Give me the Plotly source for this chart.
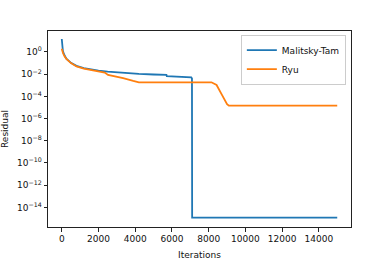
import plotly.graph_objects as go

# Malitsky-Tam residual history
mt_iter = [0, 10, 30, 60, 120, 250, 500, 800, 1200, 1600, 2000, 2500, 2900, 3500,
           4200, 5000, 5700, 5720, 6500, 6950, 7050, 7090, 7100, 15000]
mt_res = [14.8, 4.0, 2.2, 1.26, 0.63, 0.25, 0.105, 0.056, 0.035, 0.026, 0.021, 0.017,
          0.0148, 0.0126, 0.0107, 0.0093, 0.0085, 0.0065, 0.0062, 0.0059, 0.0052, 0.004,
          1.2e-15, 1.2e-15]

# Ryu residual history
ryu_iter = [0, 20, 70, 150, 250, 500, 800, 1200, 1600, 2000, 2340, 2520, 2970, 3340,
            3890, 4070, 4200, 8150, 8250, 8430, 8700, 9000, 9100, 15000]
ryu_res = [2.0, 1.26, 0.76, 0.4, 0.234, 0.1, 0.05, 0.0316, 0.024, 0.019, 0.0138, 0.0085,
           0.006, 0.0043, 0.00245, 0.002, 0.00186, 0.00186, 0.00158, 0.00107, 0.000158,
           2.0e-5, 1.45e-5, 1.45e-5]

x_ticks = [0, 2000, 4000, 6000, 8000, 10000, 12000, 14000]
x_ticktext = [str(v) for v in x_ticks]
y_exps = [0, -2, -4, -6, -8, -10, -12, -14]
y_tickvals = [10.0 ** e for e in y_exps]
y_ticktext = ["10<sup>%s</sup>" % (str(e).replace("-", "\u2212")) for e in y_exps]

font = "DejaVu Sans"

fig = go.Figure()
fig.add_trace(go.Scatter(x=mt_iter, y=mt_res, mode="lines", name="Malitsky-Tam",
                         line=dict(color="#1f77b4", width=1.8)))
fig.add_trace(go.Scatter(x=ryu_iter, y=ryu_res, mode="lines", name="Ryu",
                         line=dict(color="#ff7f0e", width=1.8)))

axis_common = dict(showline=True, mirror=True, linecolor="#222222", linewidth=1,
                   ticks="outside", ticklen=3.5, tickwidth=1, tickcolor="#222222",
                   showgrid=False, zeroline=False, automargin=False,
                   tickfont=dict(family=font, size=9, color="#111111"))

fig.update_layout(
    width=390, height=260,
    margin=dict(l=48, r=39, t=31, b=33),
    paper_bgcolor="white", plot_bgcolor="white",
    font=dict(family=font, size=9, color="#111111"),
    xaxis=dict(range=[-750, 15750], tickvals=x_ticks, ticktext=x_ticktext,
               title=dict(text="Iterations", font=dict(family=font, size=9)),
               **axis_common),
    yaxis=dict(type="log", range=[-15.77, 1.89], tickvals=y_tickvals, ticktext=y_ticktext,
               title=dict(text="Residual", font=dict(family=font, size=9)),
               **axis_common),
    legend=dict(x=0.983, y=0.982, xanchor="right", yanchor="top",
                bgcolor="white", bordercolor="#cccccc", borderwidth=1,
                font=dict(family=font, size=9), tracegroupgap=0, itemwidth=30),
    showlegend=True,
)

fig.write_html("out.html", config={"displayModeBar": False},
               post_script="document.body.style.margin='0px';")
